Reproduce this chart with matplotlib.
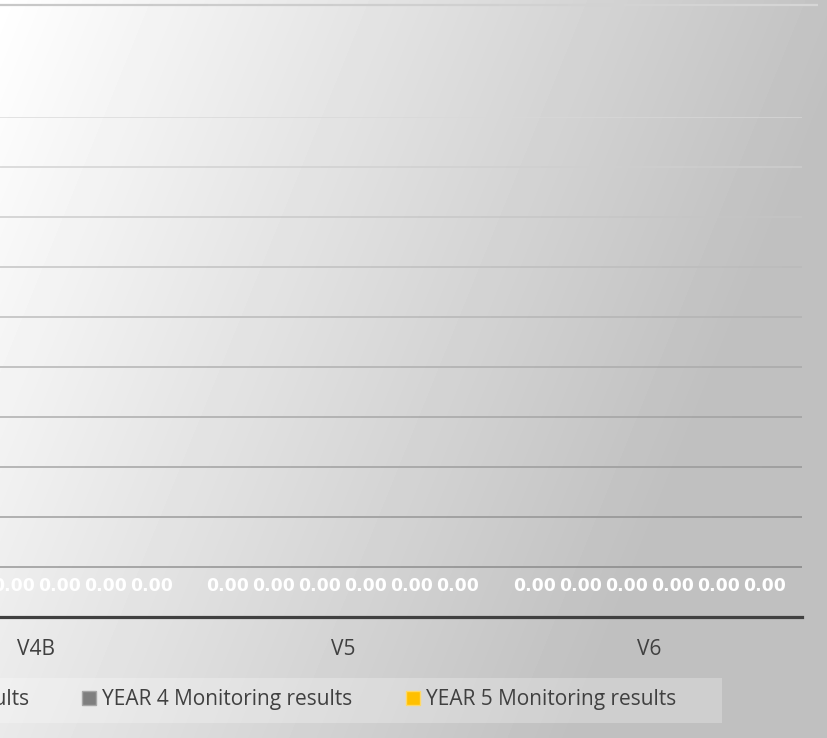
import numpy as np
import matplotlib
matplotlib.use("Agg")
import matplotlib.pyplot as plt
from matplotlib.collections import LineCollection
from matplotlib.lines import Line2D
from matplotlib.patches import Rectangle

# ---- data -------------------------------------------------------------
categories = ["V4B", "V5", "V6"]
series_names = [
    "Baseline Monitoring results",
    "YEAR 1 Monitoring results",
    "YEAR 2 Monitoring results",
    "YEAR 3 Monitoring results",
    "YEAR 4 Monitoring results",
    "YEAR 5 Monitoring results",
]
baseline = [0.0, 0.0, 0.0]
year1 = [0.0, 0.0, 0.0]
year2 = [0.0, 0.0, 0.0]
year3 = [0.0, 0.0, 0.0]
year4 = [0.0, 0.0, 0.0]
year5 = [0.0, 0.0, 0.0]
series_values = [baseline, year1, year2, year3, year4, year5]
grid_levels = list(range(1, 11))

# ---- styling ----------------------------------------------------------
series_colors = ["#4472c4", "#ed7d31", "#a5a5a5", "#5b9bd5", "#7f7f7f", "#ffc000"]
series_edges = ["#8faadc", "#f4b183", "#c9c9c9", "#9dc3e6", "#a6a6a6", "#ffd966"]
text_color = "#404040"
label_size = 15.0
W, H, DPI = 828, 738, 100

fig = plt.figure(figsize=(W / DPI, H / DPI), dpi=DPI)

# soft grey gradient behind the whole chart
bg = fig.add_axes([0, 0, 1, 1], zorder=-10)
yy, xx = np.mgrid[0:H, 0:W]
theta = np.deg2rad(22)
p = np.clip((xx * np.cos(theta) + yy * np.sin(theta)) / 800.0, 0, 1)
shade = 255 - 63 * p
bg.imshow(shade, cmap="gray", vmin=0, vmax=255, extent=[0, 1, 0, 1],
          aspect="auto", interpolation="bilinear")
bg.axis("off")

# thin rule along the top edge
top_x = np.linspace(0, 818 / W, 60)
top_y = 1 - 5 / H
top_segs = [[(top_x[i], top_y), (top_x[i + 1], top_y)] for i in range(len(top_x) - 1)]
top_cols = [str(np.interp(t, [0, 1], [200, 214]) / 255) for t in top_x[:-1] / top_x[-1]]
fig.add_artist(LineCollection(top_segs, colors=top_cols, linewidths=1.6,
                              transform=fig.transFigure))

# ---- plot area --------------------------------------------------------
ax = fig.add_axes([0, (H - 617) / H, 802 / W, 500 / H])
ax.set_facecolor("none")
pitch = 306.5  # px between category centres
ax.set_xlim(-36.5 / pitch, 2 + 152.5 / pitch)
ax.set_ylim(0, 10)

n = len(series_values)
bar_w = 46 / pitch
x = np.arange(len(categories))
for i, (vals, col) in enumerate(zip(series_values, series_colors)):
    bars = ax.bar(x + (i - (n - 1) / 2) * bar_w, vals, width=bar_w, color=col, zorder=3)
    ax.bar_label(bars, fmt="%.2f", padding=15.5, color="white", fontsize=12.4,
                 fontweight="bold", family="DejaVu Sans")

# horizontal gridlines, lighter towards the top
xl = ax.get_xlim()
xs = np.linspace(xl[0], xl[1], 81)
ufrac = (xs[:-1] - xl[0]) / (xl[1] - xl[0]) * (802 / W)
segs, cols = [], []
for k in grid_levels:
    t = (k - 1) / (len(grid_levels) - 1)
    left = 158 + (222 - 158) * t
    right = 136 + (212 - 136) * t
    for j in range(len(xs) - 1):
        segs.append([(xs[j], k), (xs[j + 1], k)])
        g = left + (right - left) * ufrac[j]
        cols.append(str(g / 255))
ax.add_collection(LineCollection(segs, colors=cols, linewidths=1.2, zorder=1))

ax.axhline(0, color=text_color, lw=2.3, clip_on=False, zorder=4)
for s in ax.spines.values():
    s.set_visible(False)
ax.set_yticks([])
ax.set_xticks(x)
ax.set_xticklabels(categories, family="Open Sans", fontsize=label_size, color=text_color)
ax.tick_params(axis="x", length=0, pad=16)

# ---- legend -----------------------------------------------------------
fig.add_artist(Rectangle((0, (H - 723) / H), 722 / W, 45 / H, transform=fig.transFigure,
                         facecolor="white", alpha=0.25, edgecolor="none", zorder=-5))
handles = [Line2D([], [], linestyle="", marker="s", markersize=9.8,
                  markerfacecolor=c, markeredgecolor=e, markeredgewidth=1.0)
           for c, e in zip(series_colors, series_edges)]
fig.legend(handles, series_names, loc="center right",
           bbox_to_anchor=(676 / W, (H - 700) / H), ncol=n, frameon=False,
           borderpad=0, borderaxespad=0, handlelength=0.62, handletextpad=0.3,
           columnspacing=2.6, prop={"family": "Open Sans", "size": label_size},
           labelcolor=text_color)

fig.savefig("out.png", dpi=DPI)
